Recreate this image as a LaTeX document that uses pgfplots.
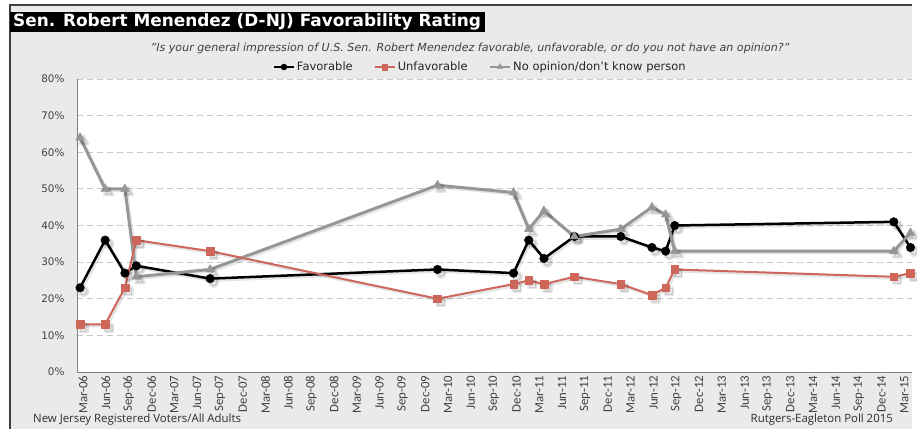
\documentclass[border=0pt]{standalone}
\usepackage{fontspec}
\setmainfont{DejaVu Sans}
\newfontfamily\calib{Carlito}
\newfontfamily\foot{Open Sans}
\usepackage{pgfplots}
\usepackage{pgfplotstable}
\pgfplotsset{compat=1.18}

\definecolor{framebg}{RGB}{234,234,234}
\definecolor{unfc}{RGB}{206,102,90}
\definecolor{noc}{RGB}{150,150,150}
\definecolor{txt}{RGB}{64,64,64}
\definecolor{gridc}{RGB}{200,200,200}

% m = months after March 2006
\pgfplotstableread{
m     fav   unf  none
0     23    13   64
3.3   36    13   50
5.9   27    23   50
7.4   29    36   26
17.1  25.5  33   28
47.0  28    20   51
57.0  27    24   49
59.0  36    25   39
61.0  31    24   44
65.0  37    26   37
71.1  37    24   39
75.2  34    21   45
77.0  33    23   43
78.2  40    28   33
107.0 41    26   33
109.2 34    27   38
}\polls

\begin{document}
\begin{tikzpicture}[x=1pt,y=1pt]
\path[use as bounding box] (0,0) rectangle (917,429);
\fill[white] (0,0) rectangle (917,429);
\fill[framebg] (10,0) rectangle (912,424);
\draw[black!75, line width=1.2pt] (10,0) -- (10,424) -- (912,424);
\fill[black] (10,397) rectangle (485,417);
\node[anchor=west, text=white, inner sep=0pt, font=\fontsize{16.9}{18}\selectfont\bfseries] at (13,407) {Sen. Robert Menendez (D-NJ) Favorability Rating};
\node[text=txt, inner sep=0pt, font=\fontsize{11.1}{13}\selectfont\itshape] at (470,381) {"Is your general impression of U.S. Sen. Robert Menendez favorable, unfavorable, or do you not have an opinion?"};
\node[anchor=west, text=txt!70!black, inner sep=0pt, font=\foot\fontsize{11.4}{14}\selectfont] at (33,9) {New Jersey Registered Voters/All Adults};
\node[anchor=east, text=txt!70!black, inner sep=0pt, font=\foot\fontsize{11.4}{14}\selectfont] at (893,9) {Rutgers-Eagleton Poll 2015};

\begin{axis}[
  at={(77pt,57pt)}, anchor=south west,
  scale only axis, width=835pt, height=293pt,
  xmin=-0.4, xmax=109.4, ymin=0, ymax=80,
  axis background/.style={fill=white},
  axis x line*=bottom, axis y line*=left,
  axis line style={draw=gray, line width=1pt},
  major tick length=0pt,
  clip=false,
  ymajorgrids,
  grid style={gridc, line width=1pt, dash pattern=on 6pt off 4pt},
  /pgf/number format/assume math mode=true,
  ytick={0,10,...,80},
  yticklabel={\pgfmathprintnumber{\tick}\%},
  yticklabel style={text=txt, font=\fontsize{10.4}{12}\selectfont, xshift=-9pt},
  xtick={0,3,...,108},
  xticklabels={Mar-06,Jun-06,Sep-06,Dec-06,Mar-07,Jun-07,Sep-07,Dec-07,Mar-08,Jun-08,Sep-08,Dec-08,Mar-09,Jun-09,Sep-09,Dec-09,Mar-10,Jun-10,Sep-10,Dec-10,Mar-11,Jun-11,Sep-11,Dec-11,Mar-12,Jun-12,Sep-12,Dec-12,Mar-13,Jun-13,Sep-13,Dec-13,Mar-14,Jun-14,Sep-14,Dec-14,Mar-15},
  xticklabel style={rotate=90, anchor=east, text=txt, font=\calib\fontsize{12.8}{15}\selectfont, yshift=-3pt},
  legend style={at={(0.483,1.041)}, anchor=center, draw=none, fill=none,
    font=\fontsize{11.5}{13}\selectfont, text=black!85, inner sep=0pt,
    legend columns=-1, /tikz/every even column/.append style={column sep=19pt}},
  legend image code/.code={\draw[#1, mark repeat=2, mark phase=2] plot coordinates {(0pt,0pt)(10pt,0pt)(20pt,0pt)};},
  every axis plot/.append style={line join=round},
  shadow/.style={forget plot, black, opacity=0.1, transform canvas={xshift=1.8pt, yshift=-1.8pt}},
]
% soft drop shadows
\addplot[shadow, line width=3pt, mark=*, mark size=4.3pt] table[x=m, y=fav] {\polls};
\addplot[shadow, line width=3pt, mark=triangle*, mark size=5pt] table[x=m, y=none] {\polls};
\addplot[shadow, line width=2.5pt, mark=square*, mark size=3.8pt] table[x=m, y=unf] {\polls};
% series
\addplot[forget plot, black, line width=2.5pt, mark=*, mark size=4.3pt, mark options={line width=0.4pt}] table[x=m, y=fav] {\polls};
\addplot[forget plot, noc, line width=3pt, mark=triangle*, mark size=5pt, mark options={line width=0.4pt}] table[x=m, y=none] {\polls};
\addplot[forget plot, unfc, line width=2pt, mark=square*, mark size=3.8pt, mark options={line width=0.4pt}] table[x=m, y=unf] {\polls};
\addlegendimage{black, line width=2pt, mark=*, mark size=3pt, mark options={line width=0.4pt}}
\addlegendentry{Favorable}
\addlegendimage{unfc, line width=2pt, mark=square*, mark size=2.8pt, mark options={line width=0.4pt}}
\addlegendentry{Unfavorable}
\addlegendimage{noc, line width=2.5pt, mark=triangle*, mark size=3.5pt, mark options={line width=0.4pt}}
\addlegendentry{No opinion/don't know person}
\end{axis}
\end{tikzpicture}
\end{document}
